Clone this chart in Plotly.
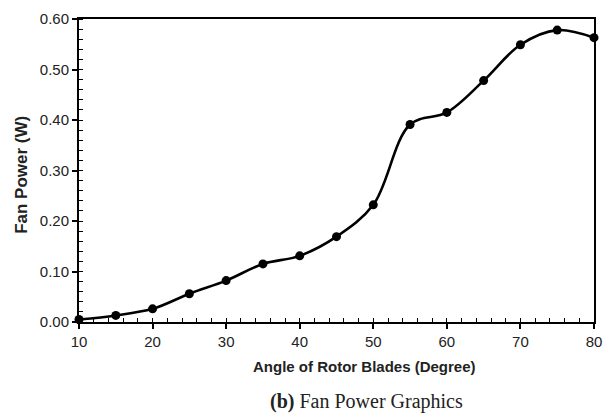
import plotly.graph_objects as go

angle = [10, 15, 20, 25, 30, 35, 40, 45, 50, 55, 60, 65, 70, 75, 80]
power = [0.005, 0.013, 0.026, 0.056, 0.082, 0.115, 0.131, 0.169, 0.232, 0.391, 0.415, 0.478, 0.549, 0.578, 0.563]

x_ticks = [10, 20, 30, 40, 50, 60, 70, 80]
y_ticks = [0.0, 0.1, 0.2, 0.3, 0.4, 0.5, 0.6]
y_tick_text = ["0.00", "0.10", "0.20", "0.30", "0.40", "0.50", "0.60"]

fig = go.Figure()
fig.add_trace(go.Scatter(
    x=angle, y=power, mode="lines+markers",
    line=dict(color="black", width=2.6, shape="spline", smoothing=1.0),
    marker=dict(color="black", size=9),
    cliponaxis=False, showlegend=False,
))

axis_font = dict(family="Liberation Sans, Arial", size=15, color="#222")
fig.update_layout(
    width=612, height=413,
    margin=dict(l=79, r=10, t=17, b=91),
    paper_bgcolor="white", plot_bgcolor="white",
    xaxis=dict(
        range=[10, 80], tickvals=x_ticks, ticks="outside", ticklen=5, tickwidth=1.5,
        tickcolor="black", showline=True, linecolor="black", linewidth=2, mirror=True,
        showgrid=False, zeroline=False, tickfont=axis_font,
        minor=dict(dtick=2, ticks="inside", ticklen=4, tickwidth=1.2, tickcolor="black", showgrid=False),
    ),
    yaxis=dict(
        range=[0, 0.6], tickvals=y_ticks, ticktext=y_tick_text, ticks="outside", ticklen=5, tickwidth=1.5,
        tickcolor="black", showline=True, linecolor="black", linewidth=2, mirror=True,
        showgrid=False, zeroline=False, tickfont=axis_font,
        minor=dict(dtick=0.02, ticks="inside", ticklen=4, tickwidth=1.2, tickcolor="black", showgrid=False),
    ),
    annotations=[
        dict(text="<b>Angle of Rotor Blades (Degree)</b>", x=369, y=413 - 367, showarrow=False,
             font=dict(family="Liberation Sans, Arial", size=15, color="#222")),
        dict(text="<b>Fan Power (W)</b>", x=21, y=413 - 174, showarrow=False, textangle=-90,
             font=dict(family="Liberation Sans, Arial", size=17, color="#222")),
        dict(text="<b>(b)</b> Fan Power Graphics", x=371, y=413 - 402, showarrow=False,
             font=dict(family="Liberation Serif, Times New Roman", size=20, color="#222")),
    ],
)
# convert pixel positions of annotations to paper coords
pw, ph = 612 - 79 - 10, 413 - 17 - 91
for a in fig.layout.annotations:
    a.x = (a.x - 79) / pw
    a.y = (a.y - 91) / ph
    a.xref = "paper"; a.yref = "paper"
    a.xanchor = "center"; a.yanchor = "middle"

fig.write_html("out.html")
